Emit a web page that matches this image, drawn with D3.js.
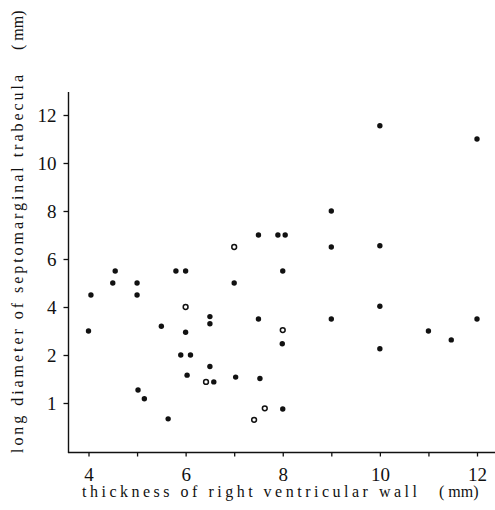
<!DOCTYPE html>
<html>
<head>
<meta charset="utf-8">
<script src="https://cdn.jsdelivr.net/npm/d3@7"></script>
<style>
  html, body { margin: 0; padding: 0; background: #fff; }
  svg { display: block; }
  svg text { font-family: "Liberation Serif", "Times New Roman", "DejaVu Serif", serif; }
</style>
</head>
<body>
<svg id="chart" width="495" height="510"></svg>
<script>
// ---- data ----
const filledX = [4.55, 5.8, 6.0, 4.5, 5.0, 7.0, 4.05, 5.0, 6.5, 6.5, 7.5, 4.0, 5.5, 6.0, 5.9, 6.1, 6.5, 6.03, 6.58, 7.03, 7.53, 5.02, 5.15, 5.64, 7.5, 7.9, 8.05, 10.0, 12.0, 9.0, 9.0, 10.0, 8.0, 10.0, 9.0, 7.99, 10.0, 11.0, 11.47, 12.0, 8.0];
const filledY = [5.5, 5.5, 5.5, 5.0, 5.0, 5.0, 4.5, 4.5, 3.6, 3.3, 3.5, 3.0, 3.2, 2.95, 2.0, 2.0, 1.76, 1.58, 1.44, 1.54, 1.51, 1.27, 1.09, 0.67, 7.0, 7.0, 7.0, 11.55, 11.0, 8.0, 6.5, 6.55, 5.5, 4.03, 3.5, 2.47, 2.26, 3.0, 2.63, 3.5, 0.875];
const hollowX = [7.0, 6.0, 6.42, 7.63, 7.41, 8.0];
const hollowY = [6.5, 4.0, 1.44, 0.89, 0.65, 3.04];

const xTickValues = [4, 5, 6, 7, 8, 9, 10, 11, 12];
const xTickLabels = ["4", "", "6", "", "8", "", "10", "", "12"];
const yTickValues = [1, 2, 4, 6, 8, 10, 12];
const yTickLabels = ["1", "2", "4", "6", "8", "10", "12"];
const xTitle = "thickness of right ventricular wall";
const yTitle = "long diameter of septomarginal trabecula";
const unitLabel = "( mm)";

// ---- layout ----
const svg = d3.select("#chart");
const axisX0 = 68.5, axisY0 = 452.5;
const serif = "\"Liberation Serif\", \"Times New Roman\", \"DejaVu Serif\", serif";

const x = d3.scaleLinear().domain([4, 12]).range([88.5, 477]);
// broken (piecewise) vertical scale as printed: 1→2 spans the same height as 2→4
const y = d3.scaleLinear().domain([1, 2, 12]).range([403, 355, 115]);

// axis lines
svg.append("line").attr("x1", axisX0).attr("x2", axisX0).attr("y1", 92).attr("y2", axisY0 + 0.5)
  .attr("stroke", "#111").attr("stroke-width", 1.4);
svg.append("line").attr("x1", axisX0 - 0.5).attr("x2", 495).attr("y1", axisY0).attr("y2", axisY0)
  .attr("stroke", "#111").attr("stroke-width", 1.4);

// x axis ticks
const gx = svg.append("g").attr("transform", `translate(0,${axisY0})`)
  .call(d3.axisBottom(x).tickValues(xTickValues).tickSize(4).tickPadding(11)
    .tickFormat((d, i) => xTickLabels[i]));
gx.attr("font-family", null);
gx.select(".domain").remove();
gx.selectAll(".tick line").attr("stroke", "#111").attr("stroke-width", 1.3);
gx.selectAll(".tick text").style("font-family", serif).style("font-size", "19px").attr("fill", "#111");

// y axis ticks
const gy = svg.append("g").attr("transform", `translate(${axisX0},0)`)
  .call(d3.axisLeft(y).tickValues(yTickValues).tickSize(5).tickPadding(7)
    .tickFormat((d, i) => yTickLabels[i]));
gy.attr("font-family", null);
gy.select(".domain").remove();
gy.selectAll(".tick line").attr("stroke", "#111").attr("stroke-width", 1.3);
gy.selectAll(".tick text").style("font-family", serif).style("font-size", "19px").attr("fill", "#111");

// titles
svg.append("text").attr("x", 82).attr("y", 497)
  .style("font-family", serif).style("font-size", "16px").attr("fill", "#111")
  .attr("textLength", 335).attr("lengthAdjust", "spacing").text(xTitle);
svg.append("text").attr("x", 439).attr("y", 497)
  .style("font-family", serif).style("font-size", "16px").attr("fill", "#111")
  .text(unitLabel);

svg.append("text").attr("transform", "translate(23,453) rotate(-90)")
  .style("font-family", serif).style("font-size", "16px").attr("fill", "#111")
  .attr("textLength", 378).attr("lengthAdjust", "spacing").text(yTitle);
svg.append("text").attr("transform", "translate(23,50) rotate(-90)")
  .style("font-family", serif).style("font-size", "16px").attr("fill", "#111")
  .text(unitLabel);

// points
const filled = filledX.map((v, i) => ({ x: v, y: filledY[i] }));
const hollow = hollowX.map((v, i) => ({ x: v, y: hollowY[i] }));

svg.append("g").selectAll("circle").data(filled).join("circle")
  .attr("cx", d => x(d.x)).attr("cy", d => y(d.y)).attr("r", 2.7)
  .attr("fill", "#111");
svg.append("g").selectAll("circle").data(hollow).join("circle")
  .attr("cx", d => x(d.x)).attr("cy", d => y(d.y)).attr("r", 2.4)
  .attr("fill", "#fff").attr("stroke", "#111").attr("stroke-width", 1.5);
</script>
</body>
</html>
